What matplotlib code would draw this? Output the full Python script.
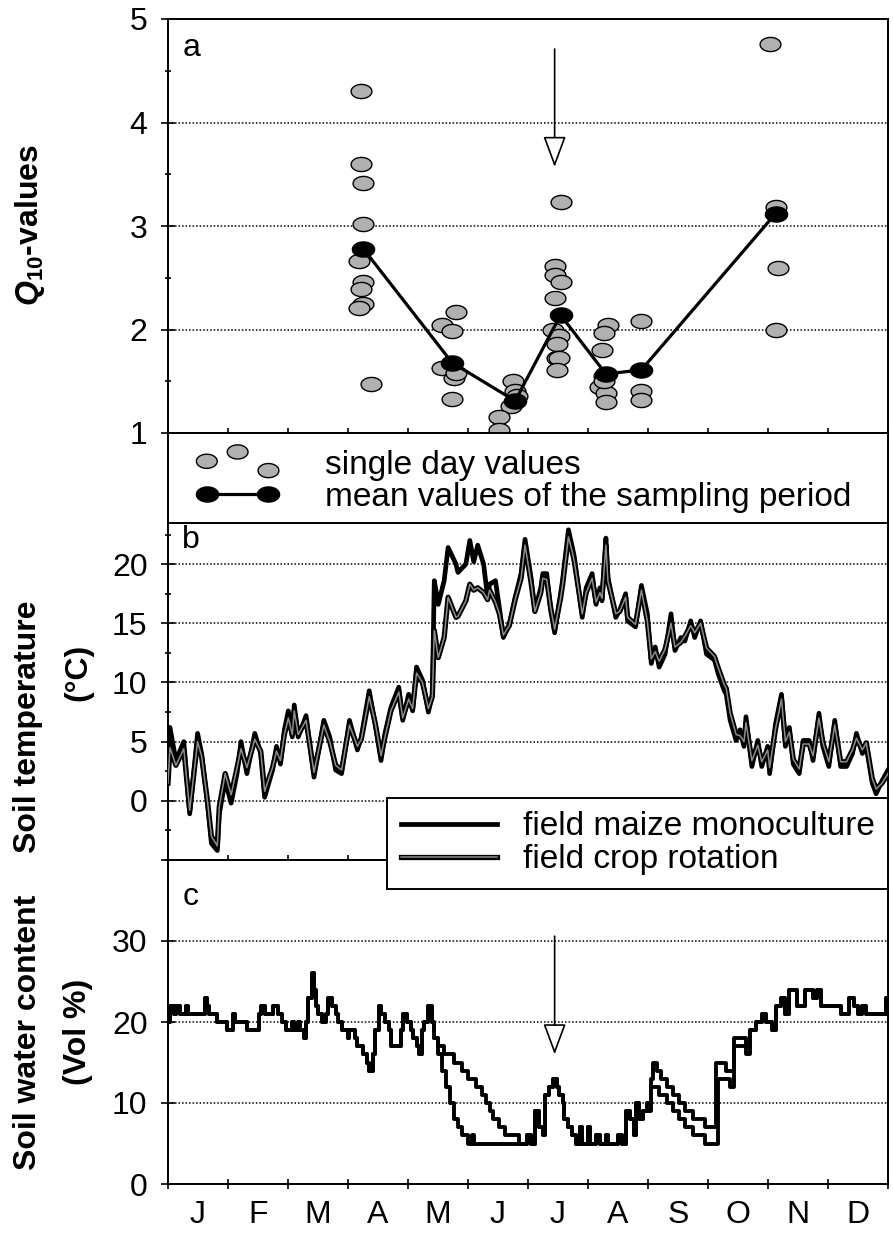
import numpy as np
import matplotlib
matplotlib.use('Agg')
import matplotlib.pyplot as plt
import matplotlib.patheffects as pe
from matplotlib.path import Path

plt.rcParams['font.family'] = ['Liberation Sans', 'DejaVu Sans']
plt.rcParams['mathtext.fontset'] = 'custom'
plt.rcParams['mathtext.rm'] = 'Liberation Sans'
plt.rcParams['mathtext.bf'] = 'Liberation Sans:bold'
plt.rcParams['mathtext.it'] = 'Liberation Sans:italic'
plt.rcParams['mathtext.bfit'] = 'Liberation Sans:italic:bold'

months = ['J', 'F', 'M', 'A', 'M', 'J', 'J', 'A', 'S', 'O', 'N', 'D']

# panel a: Q10 values (day of year)
q_day = [98, 98, 99, 99, 97, 99, 98, 99, 97, 103,
         146, 139, 144, 139, 145, 146, 144,
         175, 176, 177, 174, 168, 168,
         199, 196, 196, 199, 196, 195, 198, 197, 197, 198, 197,
         223, 221, 220, 221, 219, 222, 222, 221,
         240, 240, 240,
         305, 308, 309, 308]
q_single = [4.30, 3.60, 3.42, 3.02, 2.66, 2.46, 2.39, 2.25, 2.21, 1.47,
            2.17, 2.04, 1.99, 1.63, 1.53, 1.58, 1.33,
            1.50, 1.41, 1.36, 1.26, 1.15, 1.03,
            3.23, 2.61, 2.53, 2.46, 2.30, 2.00, 1.94, 1.86, 1.72, 1.72, 1.61,
            2.04, 1.97, 1.80, 1.55, 1.44, 1.39, 1.30, 1.50,
            2.08, 1.41, 1.32,
            4.76, 3.18, 2.59, 2.00]
mean_day = [99, 144, 176, 199, 222, 240, 308]
mean_q = [2.78, 1.68, 1.31, 2.14, 1.57, 1.61, 3.12]
arrow_day = 196

# panel b: soil temperature
b_day = [0, 1, 4, 8, 11, 15, 17, 20, 22, 25,
         26, 29, 32, 35, 37, 40, 44, 47, 49, 53,
         55, 57, 59, 61, 63, 64, 66, 70, 74, 79,
         82, 85, 88, 92, 96, 98, 102, 105, 108, 110,
         113, 117, 119, 122, 124, 126, 129, 132, 134, 135,
         137, 140, 142, 146, 147, 151, 153, 155, 157, 160,
         162, 163, 166, 168, 170, 173, 176, 179, 181, 184,
         186, 189, 190, 192, 194, 196, 199, 200, 203, 205,
         206, 210, 212, 215, 217, 219, 220, 222, 223, 227,
         229, 232, 233, 237, 240, 243, 245, 247, 249, 252,
         255, 257, 260, 262, 265, 267, 270, 273, 277, 279,
         282, 283, 285, 288, 290, 292, 293, 296, 299, 301,
         304, 305, 308, 311, 313, 315, 317, 320, 322, 325,
         327, 330, 332, 335, 338, 341, 344, 347, 349, 352,
         354, 357, 359, 362, 365]
b_maize = [2.0, 6.2, 3.4, 5.0, -1.1, 5.7, 4.0, -0.2, -3.6, -4.2,
           -1.1, 1.7, -0.2, 2.3, 5.0, 2.3, 5.7, 4.0, 0.3, 2.6,
           4.6, 3.1, 6.0, 7.6, 5.4, 8.1, 5.4, 7.2, 2.0, 6.8,
           5.4, 2.6, 2.3, 6.8, 4.3, 5.4, 9.3, 6.5, 3.4, 5.7,
           7.9, 9.6, 6.8, 9.0, 7.6, 11.3, 10.2, 7.5, 9.0, 18.6,
           16.6, 18.6, 21.4, 20.0, 19.3, 20.0, 22.0, 20.2, 21.6, 20.0,
           17.2, 18.3, 18.6, 16.3, 13.8, 14.9, 17.2, 19.2, 22.1, 18.9,
           16.1, 18.0, 19.2, 19.2, 16.1, 14.2, 17.5, 18.6, 22.9, 21.4,
           20.6, 15.5, 18.0, 19.2, 16.6, 18.0, 16.9, 22.2, 18.9, 15.5,
           16.1, 17.5, 15.2, 14.7, 18.2, 15.8, 11.6, 13.0, 11.3, 12.4,
           15.8, 12.7, 13.8, 13.5, 15.2, 13.8, 15.2, 12.4, 11.9, 10.7,
           9.3, 9.0, 6.8, 5.1, 6.0, 4.6, 7.1, 2.9, 5.1, 2.9,
           4.6, 2.3, 6.5, 9.0, 4.6, 6.2, 3.1, 2.3, 5.1, 5.1,
           3.4, 7.4, 4.6, 2.9, 6.8, 2.9, 2.9, 4.0, 5.7, 4.0,
           4.6, 1.5, 0.6, 1.7, 2.6]
b_rot = [1.5, 4.5, 3.0, 4.4, -0.8, 5.0, 3.8, 0.0, -3.0, -3.8,
         -0.5, 2.3, 0.5, 2.8, 4.4, 2.8, 5.2, 4.2, 0.8, 2.8,
         4.2, 3.4, 5.6, 7.0, 5.6, 7.6, 5.6, 6.8, 2.4, 6.4,
         5.0, 3.0, 2.6, 6.4, 4.6, 5.2, 8.8, 6.6, 3.8, 5.4,
         7.6, 9.2, 7.0, 8.6, 7.8, 10.8, 10.0, 7.8, 8.8, 14.4,
         12.1, 13.8, 17.2, 15.5, 15.6, 16.9, 18.3, 17.8, 18.0, 17.6,
         17.0, 17.8, 16.8, 15.8, 14.0, 14.8, 17.0, 18.8, 21.6, 18.5,
         16.0, 17.6, 18.8, 18.7, 16.3, 14.5, 17.1, 18.2, 22.3, 21.0,
         20.2, 15.8, 17.6, 18.8, 16.8, 17.6, 17.1, 21.6, 18.6, 15.8,
         16.0, 17.2, 15.5, 14.9, 17.8, 15.2, 12.0, 12.6, 11.8, 12.8,
         15.0, 13.0, 13.4, 13.9, 14.8, 14.2, 15.0, 12.9, 12.2, 11.2,
         9.8, 9.5, 7.4, 5.6, 5.5, 5.0, 6.6, 3.4, 4.7, 3.3,
         4.3, 2.8, 6.1, 8.6, 5.0, 5.8, 3.5, 2.7, 4.8, 4.8,
         3.8, 7.0, 4.9, 3.3, 6.4, 3.3, 3.3, 4.3, 5.3, 4.3,
         4.9, 1.9, 1.0, 1.5, 2.3]

# panel c: soil water content, pieces shared by both fields and pieces that differ
c_spring_day = [0, 1, 3, 4, 6, 9, 10, 19, 20, 21,
                25, 30, 33, 34, 40, 46, 47, 49, 53, 56,
                58, 60, 63, 64, 66, 67, 69, 70, 71, 73,
                74, 75, 76, 78, 80, 81, 83, 85, 86, 88,
                91, 92, 95, 96, 99, 101, 102, 104, 105, 107,
                108, 110, 112, 113, 118, 119, 121, 123, 124, 126,
                127, 129, 130, 132, 134, 135]
c_spring = [20, 22, 21, 22, 21, 22, 21, 23, 22, 21,
            20, 19, 21, 20, 19, 21, 22, 21, 22, 21,
            20, 19, 20, 19, 20, 19, 18, 20, 23, 26,
            24, 22, 21, 20, 21, 23, 22, 21, 20, 19,
            18, 19, 18, 17, 16, 15, 14, 16, 19, 22,
            21, 20, 19, 17, 19, 21, 20, 19, 18, 17,
            16, 19, 20, 22, 20, 18]
c_rot_dry_day = [137, 139, 141, 143, 145, 147, 149, 152, 154, 155]
c_rot_dry = [16, 14, 12, 10, 8, 7, 6, 5, 6, 5]
c_maize_dry_day = [137, 140, 145, 149, 152, 156, 159, 161, 163, 165, 168, 171, 178]
c_maize_dry = [17, 16, 15, 14, 13, 12, 11, 10, 9, 8, 7, 6, 5]
c_summer_day = [181, 182, 184, 186, 188, 190, 191, 193, 195, 197,
                198, 200, 201, 203, 205, 207, 209, 210, 213, 214,
                217, 219, 222, 223, 228, 230, 232, 234, 236, 237,
                239, 241]
c_summer = [5, 6, 5, 9, 7, 6, 11, 12, 13, 12,
            11, 10, 8, 7, 6, 5, 7, 5, 7, 5,
            6, 5, 6, 5, 6, 5, 9, 8, 6, 10,
            8, 9]
c_rot_fall_day = [243, 245, 249, 253, 256, 259, 262, 266, 272, 279, 285, 287, 293, 295]
c_rot_fall = [9, 12, 11, 10, 9, 8, 7, 6, 5, 13, 12, 17, 16, 19]
c_maize_fall_day = [243, 245, 246, 248, 250, 253, 256, 259, 262, 266, 272, 278, 283, 287, 293, 295]
c_maize_fall = [10, 13, 15, 14, 13, 12, 11, 10, 9, 8, 7, 15, 14, 18, 17, 19]
c_winter_day = [298, 301, 303, 306, 308, 311, 313, 315, 319, 323,
                327, 329, 331, 341, 345, 348, 350, 352, 354, 364, 365]
c_winter = [20, 21, 20, 19, 22, 23, 21, 24, 22, 24,
            23, 24, 22, 21, 23, 22, 21, 22, 21, 23, 23]

c_rot_day = c_spring_day + c_rot_dry_day + c_summer_day + c_rot_fall_day + c_winter_day
c_rot = c_spring + c_rot_dry + c_summer + c_rot_fall + c_winter
c_maize_day = c_spring_day + c_maize_dry_day + c_summer_day + c_maize_fall_day + c_winter_day
c_maize = c_spring + c_maize_dry + c_summer + c_maize_fall + c_winter

# ---- layout (pixel based, figure 893 x 1234) ----
W_PX, H_PX = 893, 1234
fig = plt.figure(figsize=(W_PX / 100, H_PX / 100), dpi=100)


def box(x0, y0, x1, y1):
    return [x0 / W_PX, 1 - y1 / H_PX, (x1 - x0) / W_PX, (y1 - y0) / H_PX]


ax_a = fig.add_axes(box(168, 19, 888, 433))
ax_key = fig.add_axes(box(168, 433, 888, 522.7))
ax_b = fig.add_axes(box(168, 522.7, 888, 860))
ax_c = fig.add_axes(box(168, 860, 888, 1184))

edges = np.arange(13) * 365 / 12
mids = (np.arange(12) + 0.5) * 365 / 12
dotted = dict(color='k', linestyle=(0, (1, 1.3)), linewidth=1.1)


def style(ax):
    ax.set_xlim(0, 365)
    ax.set_xticks(edges)
    ax.tick_params(axis='x', which='major', direction='inout', length=7,
                   width=1.2, labelbottom=False)
    ax.tick_params(axis='y', which='major', direction='inout', length=9.5,
                   width=1.2, labelsize=23, pad=10)
    ax.tick_params(axis='y', which='minor', direction='inout', length=4.5,
                   width=1.2)
    ax.yaxis.grid(True, which='major', **dotted)
    ax.set_axisbelow(True)
    for s in ax.spines.values():
        s.set_linewidth(1.4)


ell = Path(np.column_stack([np.cos(np.linspace(0, 2 * np.pi, 49)),
                            0.68 * np.sin(np.linspace(0, 2 * np.pi, 49))]))

# panel a
style(ax_a)
ax_a.set_ylim(1, 5)
ax_a.set_yticks([1, 2, 3, 4, 5])
ax_a.set_yticks([1.5, 2.5, 3.5, 4.5], minor=True)
sc = ax_a.scatter(q_day, q_single, s=15 ** 2, marker=ell, facecolor='#b0b0b0',
                  edgecolor='k', linewidths=1.0, zorder=3)
mline, = ax_a.plot(mean_day, mean_q, color='k', lw=2.3, marker=ell, ms=16,
                   mfc='k', mec='k', zorder=4)
arrow = dict(arrowstyle='-|>,head_length=0.97,head_width=0.36', mutation_scale=20,
             fc='white', ec='black', lw=1.2, shrinkA=0, shrinkB=0)
ax_a.annotate('', xy=(arrow_day, 3.57), xytext=(arrow_day, 4.71), arrowprops=arrow)
ax_a.text(0.02, 0.93, 'a', transform=ax_a.transAxes, fontsize=23, va='center')

# key box between a and b
ax_key.set_xticks([])
ax_key.set_yticks([])
for s in ax_key.spines.values():
    s.set_linewidth(1.4)
ax_key.legend([sc, mline], ['single day values', 'mean values of the sampling period'],
              loc='center left', bbox_to_anchor=(0.04, 0.46), borderaxespad=0,
              borderpad=0, frameon=False, fontsize=24, handlelength=2.45,
              handletextpad=1.4, labelspacing=0.02, scatterpoints=3,
              scatteryoffsets=[0.55, 0.95, 0.15], numpoints=2)

# panel b
style(ax_b)
ax_b.set_ylim(-5, 23.5)
ax_b.set_yticks([0, 5, 10, 15, 20])
ax_b.set_yticks([-5, -2.5, 2.5, 7.5, 12.5, 17.5, 22.5], minor=True)
l_maize, = ax_b.plot(b_day, b_maize, color='k', lw=3.4, zorder=3)
rot_fx = [pe.Stroke(linewidth=3.8, foreground='k'), pe.Normal()]
l_rot, = ax_b.plot(b_day, b_rot, color='#8c8c8c', lw=1.1, zorder=4,
                   path_effects=rot_fx)
ax_b.text(0.02, 0.949, 'b', transform=ax_b.transAxes, fontsize=23, va='center')

# panel c
style(ax_c)
ax_c.set_ylim(0, 40)
ax_c.set_yticks([0, 10, 20, 30, 40])
ax_c.set_yticklabels(['0', '10', '20', '30', ''])
ax_c.plot(c_maize_day, c_maize, color='k', lw=2.8, drawstyle='steps-post', zorder=3)
ax_c.plot(c_rot_day, c_rot, color='k', lw=2.8, drawstyle='steps-post', zorder=3)
ax_c.annotate('', xy=(arrow_day, 16.0), xytext=(arrow_day, 30.6), arrowprops=arrow)
ax_c.text(0.02, 0.886, 'c', transform=ax_c.transAxes, fontsize=23, va='center')
ax_c.set_xticks(mids, minor=True)
ax_c.set_xticklabels(months, minor=True)
ax_c.tick_params(axis='x', which='minor', length=0, labelsize=23, pad=11.5)

# legend for the temperature / water lines
leg = fig.legend([l_maize, l_rot], ['field maize monoculture', 'field crop rotation'],
                 loc='upper right', bbox_to_anchor=(888 / W_PX, 1 - 798 / H_PX),
                 borderaxespad=0, fontsize=24, handlelength=2.88,
                 handletextpad=0.78, borderpad=0.4, labelspacing=0.06,
                 fancybox=False, edgecolor='k', framealpha=1)
leg.get_frame().set_linewidth(1.4)
leg.set_zorder(10)

# y labels
lab = dict(rotation=90, ha='center', va='center', fontsize=23, fontweight='bold')
fig.text(30 / W_PX, 1 - 225 / H_PX, r'$\mathbfit{Q}_{\mathbf{10}}$-values', **lab)
fig.text(28 / W_PX, 1 - 727 / H_PX, 'Soil temperature', **lab)
fig.text(78 / W_PX, 1 - 672 / H_PX, '(°C)', **lab)
fig.text(28 / W_PX, 1 - 1032 / H_PX, 'Soil water content', **lab)
fig.text(78 / W_PX, 1 - 1032 / H_PX, '(Vol %)', **lab)

fig.savefig('out.png', dpi=100)
